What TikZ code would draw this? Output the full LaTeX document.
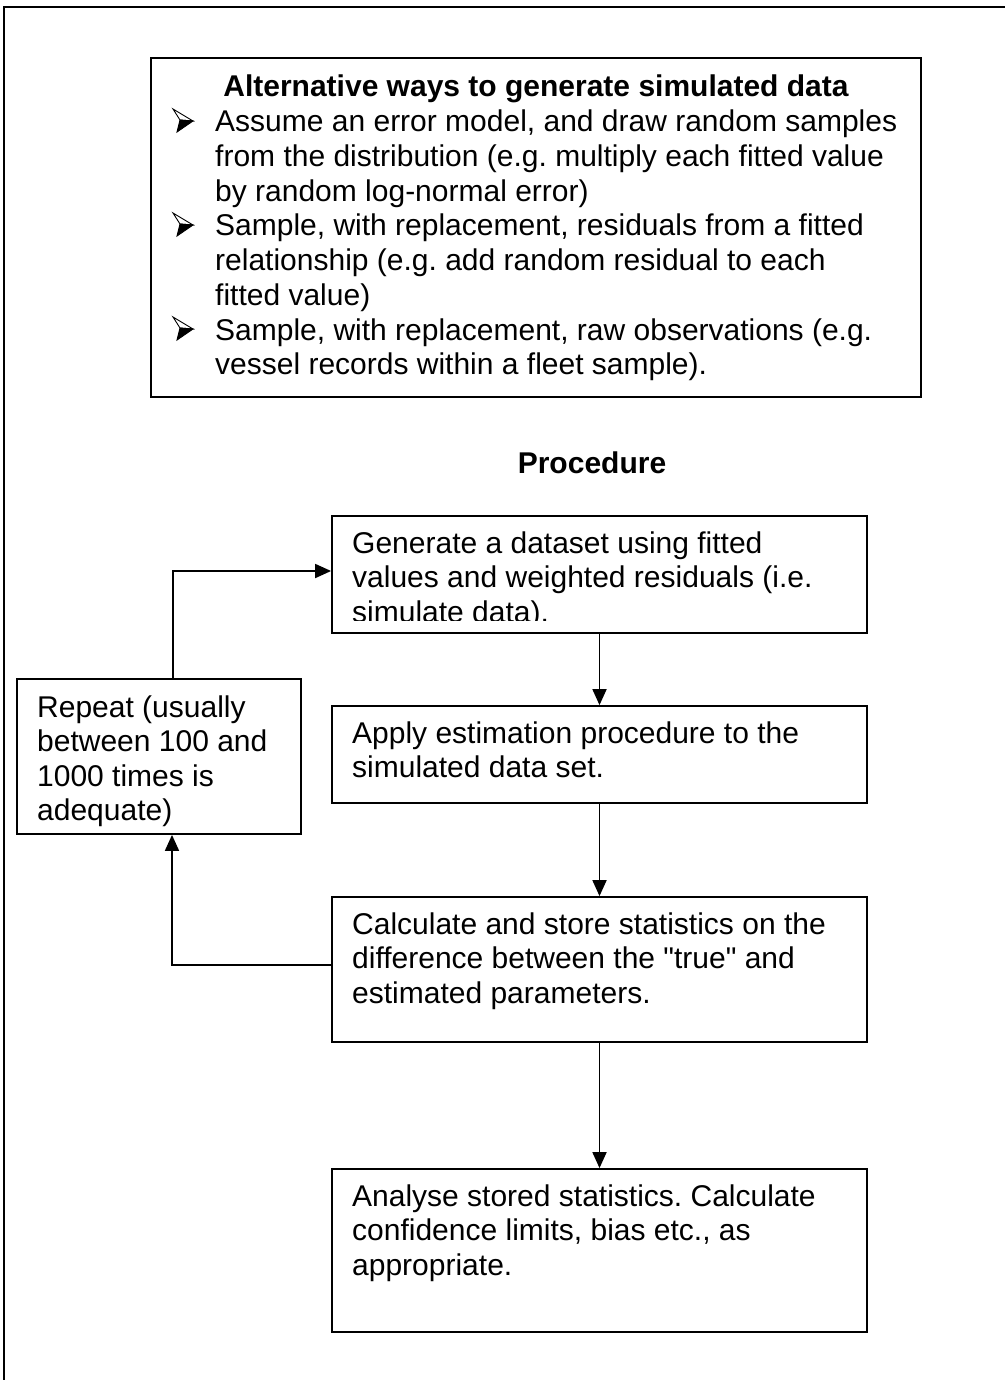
\documentclass[tikz,border=0pt]{standalone}
\usepackage{fontspec}
\setmainfont{Liberation Sans}[Ligatures=TeXOff]
\usetikzlibrary{arrows.meta}
\newcommand{\tblines}[1]{\begin{tabular}[t]{@{}l@{}}#1\end{tabular}}
\frenchspacing
\begin{document}
\begin{tikzpicture}[x=1pt,y=-1pt,
  box/.style={draw, line width=1.8pt, rectangle, inner sep=0},
  txt/.style={anchor=base west, inner sep=0, font=\fontsize{30}{34.6}\selectfont},
  btxt/.style={anchor=base, inner sep=0, font=\bfseries\fontsize{30}{34.6}\selectfont},
  conn/.style={line width=1.8pt},
  arr/.style={conn, -{Triangle[length=16pt,width=14pt]}},
  arrowbullet/.pic={
    \filldraw[fill=white, line width=0.9pt, line join=miter] (0,-23) -- (20,-11) -- (7,-12) -- cycle;
    \filldraw[fill=black, line width=0.9pt, line join=miter] (7,-12) -- (20,-11) -- (4,0) -- cycle;
  }]
\useasboundingbox (0,0) rectangle (1004,1380);
% outer frame (only left and top edges visible)
\draw[line width=1.8pt] (4,1390) -- (4,7) -- (1014,7);

% boxes
\node[box, minimum width=770pt, minimum height=339pt] (top) at (536,227.5) {};
\node[box, minimum width=535pt, minimum height=117pt] (gen) at (599.5,574.5) {};
\node[box, minimum width=284pt, minimum height=155pt] (rep) at (159,756.5) {};
\node[box, minimum width=535pt, minimum height=97pt] (app) at (599.5,754.5) {};
\node[box, minimum width=535pt, minimum height=145pt] (calc) at (599.5,969.5) {};
\node[box, minimum width=535pt, minimum height=163pt] (ana) at (599.5,1250.5) {};

% top box text
\node[btxt] (ttl) at (536,97) {Alternative ways to generate simulated data};
\pic at (173,132) {arrowbullet};
\pic at (173,236) {arrowbullet};
\pic at (173,340) {arrowbullet};
\node[txt] (t1) at (215,132) {\tblines{Assume an error model, and draw random samples\\from the distribution (e.g. multiply each fitted value\\by random log-normal error)}};
\node[txt] (t2) at (215,236) {\tblines{Sample, with replacement, residuals from a fitted\\relationship (e.g. add random residual to each\\fitted value)}};
\node[txt] (t3) at (215,340) {\tblines{Sample, with replacement, raw observations (e.g.\\vessel records within a fleet sample).}};

\node[btxt] (proc) at (592,473) {Procedure};

% procedure texts
\begin{scope}
\clip (333,517) rectangle (866,620);
\node[txt] (gent) at (352,553) {\tblines{Generate a dataset using fitted\\values and weighted residuals (i.e.\\simulate data).}};
\end{scope}
\node[txt] (rept) at (37,717) {\tblines{Repeat (usually\\between 100 and\\1000 times is\\adequate)}};
\node[txt] (appt) at (352,743) {\tblines{Apply estimation procedure to the\\simulated data set.}};
\node[txt] (calct) at (352,934) {\tblines{Calculate and store statistics on the\\difference between the "true" and\\estimated parameters.}};
\node[txt] (anat) at (352,1206) {\tblines{Analyse stored statistics. Calculate\\confidence limits, bias etc., as\\appropriate.}};

% connectors
\draw[arr] (gen.south) -- (app.north);
\draw[arr] (app.south) -- (calc.north);
\draw[arr] (calc.south) -- (ana.north);
\coordinate (loopA) at (173,571);
\draw[arr] (rep.north -| loopA) -- (loopA) -- (loopA -| gen.west);
\coordinate (loopB) at (172,965);
\draw[arr] (loopB -| calc.west) -- (loopB) -- (loopB |- rep.south);
\end{tikzpicture}
\end{document}
